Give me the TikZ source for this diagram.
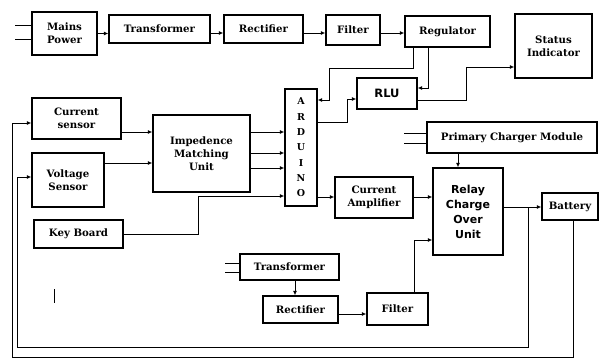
\documentclass[tikz,border=0pt]{standalone}
\usepackage{fontspec}
\setmainfont{DejaVu Serif}
\setsansfont{DejaVu Sans}
\usetikzlibrary{arrows.meta}
\begin{document}
\begin{tikzpicture}[x=1pt,y=-1pt,
  box/.style={draw, line width=1.4pt, inner sep=0pt, align=center,
    font=\bfseries\fontsize{10.2}{13}\selectfont},
  sbox/.style={box, font=\sffamily\bfseries\fontsize{11}{15}\selectfont},
  conn/.style={line width=0.8pt},
  arr/.style={conn, -{Latex[length=4.5pt,width=4pt]}}]
\useasboundingbox (0,0) rectangle (600,359);
% top row
\node[box, minimum width=65pt, minimum height=43pt] (mains) at (64.5,33.5) {Mains\\Power};
\node[box, minimum width=101pt, minimum height=28pt] (trans1) at (159.5,29) {Transformer};
\node[box, minimum width=79pt, minimum height=28pt] (rect1) at (263.5,29) {Rectifier};
\node[box, minimum width=54pt, minimum height=30pt] (filt1) at (353,30) {Filter};
\node[box, minimum width=85pt, minimum height=31pt] (reg) at (447.5,31.5) {Regulator};
\node[box, minimum width=77pt, minimum height=64pt] (status) at (553.5,46) {Status\\Indicator};
\node[sbox, minimum width=60pt, minimum height=31pt, font=\sffamily\bfseries\fontsize{11.5}{13}\selectfont] (rlu) at (387,93.5) {RLU};
\node[box, minimum width=32pt, minimum height=117pt, font=\bfseries\fontsize{9.5}{15.3}\selectfont] (ard) at (301,147.5) {A\\R\\D\\U\\I\\N\\O};
% left column
\node[box, minimum width=89pt, minimum height=41pt] (cs) at (76.5,118.5) {Current\\sensor};
\node[box, minimum width=72pt, minimum height=54pt] (vs) at (68,180) {Voltage\\Sensor};
\node[box, minimum width=89pt, minimum height=28pt] (kb) at (78.5,234) {Key Board};
\node[box, minimum width=97pt, minimum height=77pt] (imu) at (201.5,153.5) {Impedence\\Matching\\Unit};
% right middle
\node[box, minimum width=78pt, minimum height=41pt] (amp) at (374,197.5) {Current\\Amplifier};
\node[sbox, minimum width=70pt, minimum height=87pt] (relay) at (468,211.5) {Relay\\Charge\\Over\\Unit};
\node[box, minimum width=170pt, minimum height=31pt] (prim) at (512,137.5) {Primary Charger Module};
\node[box, minimum width=56pt, minimum height=27pt] (bat) at (570,206.5) {Battery};
% bottom
\node[box, minimum width=99pt, minimum height=26pt] (trans2) at (289.5,267) {Transformer};
\node[box, minimum width=75pt, minimum height=27pt] (rect2) at (300.5,309.5) {Rectifier};
\node[box, minimum width=61pt, minimum height=32pt] (filt2) at (397.5,309) {Filter};
% free ends
\coordinate (m1) at (15,25);
\coordinate (m2) at (15,39);
\coordinate (p1) at (404,133);
\coordinate (p2) at (404,143);
\coordinate (t1) at (225,263);
\coordinate (t2) at (225,272);
% connectors
\draw[conn] (m1) -- (mains.west |- m1);
\draw[conn] (m2) -- (mains.west |- m2);
\draw[arr] (mains.east) -- (mains.east -| trans1.west);
\draw[arr] (trans1.east |- 0,33) -- (rect1.west |- 0,33);
\draw[arr] (rect1.east |- 0,33) -- (filt1.west |- 0,33);
\draw[arr] (filt1.east |- 0,33) -- (reg.west |- 0,33);
\draw[arr] (reg.south -| 413,0) -- (413,68) -- (329,68) -- (329,100) -- (ard.east |- 0,100);
\draw[arr] (reg.south -| 428,0) -- (428,88) -- (rlu.east |- 0,88);
\draw[arr] (rlu.east |- 0,100) -- (466,100) -- (466,67) -- (status.west |- 0,67);
\draw[arr] (ard.east |- 0,122) -- (347,122) -- (347,99) -- (rlu.west |- 0,99);
\draw[arr] (cs.east |- 0,132) -- (imu.west |- 0,132);
\draw[arr] (vs.east |- 0,163) -- (imu.west |- 0,163);
\draw[arr] (imu.east |- 0,132) -- (ard.west |- 0,132);
\draw[arr] (imu.east |- 0,153) -- (ard.west |- 0,153);
\draw[arr] (imu.east |- 0,168) -- (ard.west |- 0,168);
\draw[arr] (kb.east) -- (198,234) -- (198,196) -- (ard.west |- 0,196);
\draw[arr] (ard.east |- 0,197) -- (amp.west |- 0,197);
\draw[arr] (amp.east |- 0,197) -- (relay.west |- 0,197);
\draw[conn] (p1) -- (prim.west |- p1);
\draw[conn] (p2) -- (prim.west |- p2);
\draw[arr] (prim.south -| 458,0) -- (relay.north -| 458,0);
\draw[arr] (relay.east |- 0,207) -- (bat.west |- 0,207);
\draw[arr] (528,207) -- (528,347) -- (17,347) -- (17,177) -- (vs.west |- 0,177);
\draw[arr] (bat.south -| 573,0) -- (573,357) -- (12,357) -- (12,123) -- (cs.west |- 0,123);
\draw[conn] (t1) -- (trans2.west |- t1);
\draw[conn] (t2) -- (trans2.west |- t2);
\draw[arr] (trans2.south -| 295,0) -- (rect2.north -| 295,0);
\draw[arr] (rect2.east |- 0,314) -- (filt2.west |- 0,314);
\draw[arr] (filt2.north -| 414,0) -- (414,240) -- (relay.west |- 0,240);
\draw[line width=1pt] (54,289) -- (54,303);
\end{tikzpicture}
\end{document}
